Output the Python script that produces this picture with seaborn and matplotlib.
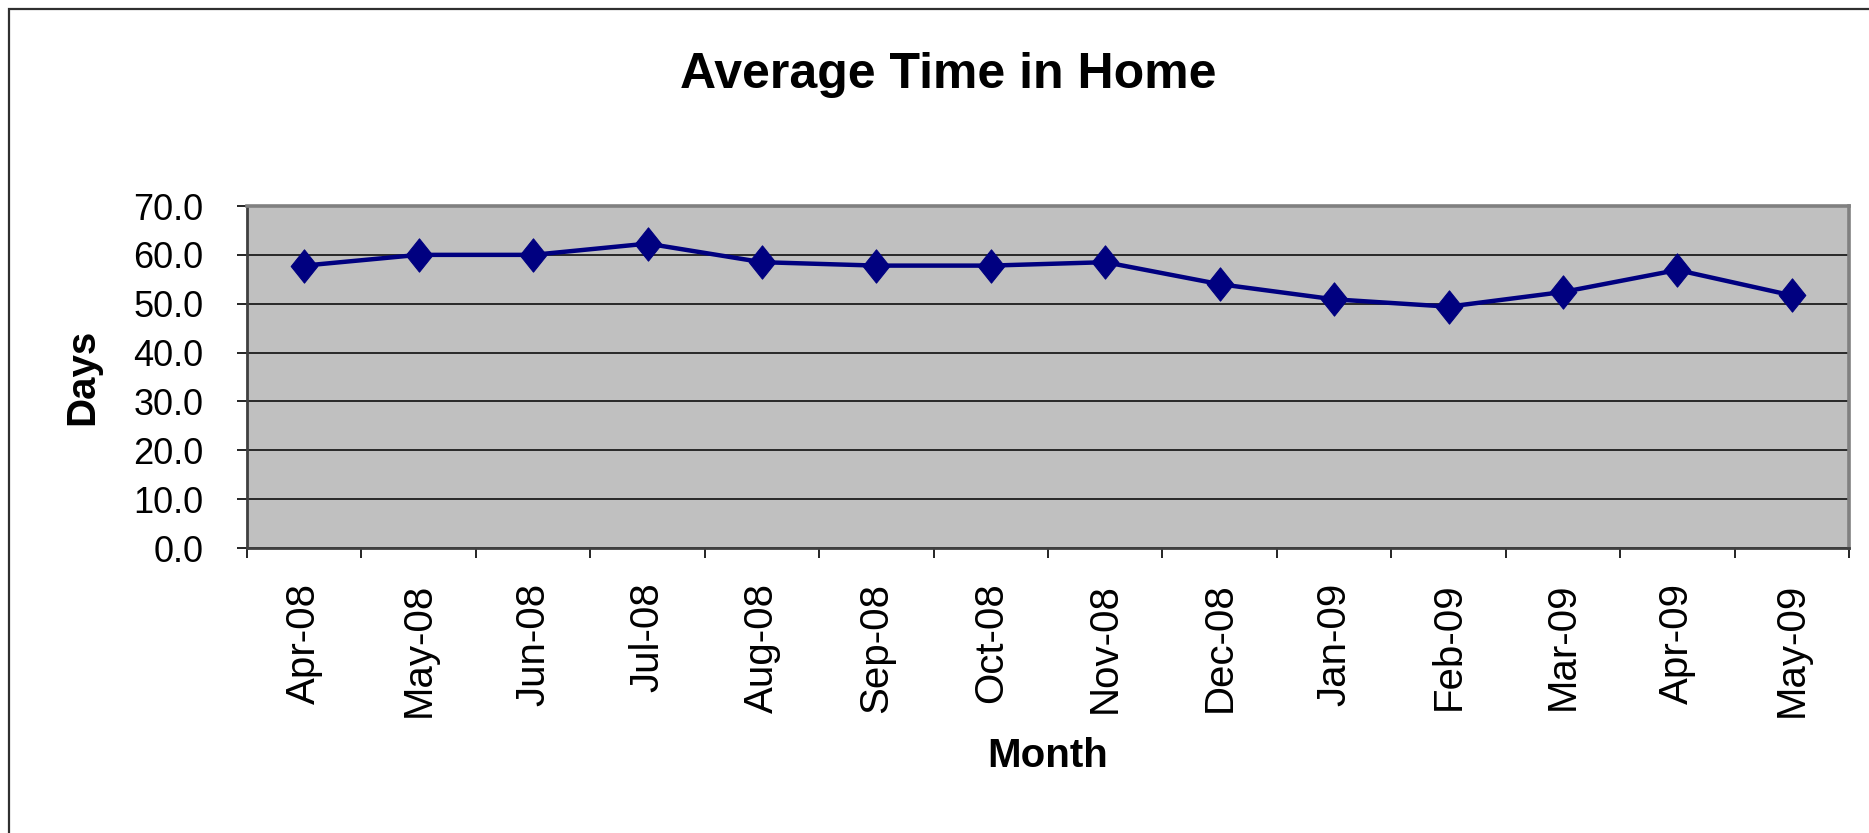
import numpy as np
import pandas as pd

import seaborn as sns
import matplotlib.pyplot as plt
from matplotlib.patches import Rectangle
from matplotlib.path import Path

# values
months = ["Apr-08", "May-08", "Jun-08", "Jul-08", "Aug-08", "Sep-08", "Oct-08",
          "Nov-08", "Dec-08", "Jan-09", "Feb-09", "Mar-09", "Apr-09", "May-09"]
days = [57.8, 60.0, 60.0, 62.3, 58.5, 57.8, 57.8,
        58.5, 54.0, 50.9, 49.4, 52.4, 56.9, 51.7]
y_ticks = [0, 10, 20, 30, 40, 50, 60, 70]

df = pd.DataFrame({"Month": months, "Days": days})
df["pos"] = np.arange(len(df))

sns.set_style("white")
plt.rcParams['font.family'] = ['Liberation Sans', 'DejaVu Sans']
plt.rcParams['text.color'] = 'black'
plt.rcParams['axes.labelcolor'] = 'black'
plt.rcParams['xtick.color'] = 'black'
plt.rcParams['ytick.color'] = 'black'

fig = plt.figure(figsize=(18.69, 8.33), dpi=100)
ax = fig.add_axes([247 / 1869, 1 - 548 / 833, 1602 / 1869, 342 / 833])
ax.set_facecolor("#C0C0C0")

# excel style diamond, a bit narrower than tall
diamond = Path([(0, 1), (0.8, 0), (0, -1), (-0.8, 0), (0, 1)],
               [Path.MOVETO, Path.LINETO, Path.LINETO, Path.LINETO, Path.CLOSEPOLY])

sns.lineplot(data=df, x="pos", y="Days", ax=ax, color="#000080", linewidth=3.2,
             marker=diamond, markersize=24, markeredgecolor="#000080",
             markerfacecolor="#000080", zorder=5, legend=False)

ax.set_xlim(-0.5, len(months) - 0.5)
ax.set_ylim(0, 70)

# gridlines
ax.set_yticks(y_ticks)
ax.set_yticklabels([f"{v:.1f}" for v in y_ticks], fontsize=26)
ax.yaxis.grid(True, color="black", linewidth=1.1)
ax.set_axisbelow(True)
ax.tick_params(axis="y", direction="out", length=7.5, width=1.2, color="black",
               pad=24, left=True)

# month labels at centres, tick marks at the boundaries
ax.set_xticks(df["pos"])
ax.set_xticklabels(months, rotation=90, fontsize=29)
ax.tick_params(axis="x", which="major", length=0, pad=25)
ax.set_xticks(np.arange(len(months) + 1) - 0.5, minor=True)
ax.tick_params(axis="x", which="minor", direction="out", length=7.5, width=1.2,
               color="black", bottom=True)

for side in ["top", "right"]:
    ax.spines[side].set_color("#808080")
    ax.spines[side].set_linewidth(2.6)
for side in ["left", "bottom"]:
    ax.spines[side].set_color("#404040")
    ax.spines[side].set_linewidth(2.0)

ax.set_xlabel("Month", fontsize=29, fontweight="bold")
ax.xaxis.set_label_coords(0.5, (548 - 737) / 342)
ax.set_ylabel("Days", fontsize=29, fontweight="bold")
ax.yaxis.set_label_coords((101 - 247) / 1602, 0.5)

fig.text(948 / 1869, 1 - 75 / 833, "Average Time in Home", fontsize=36,
         fontweight="bold", ha="center", va="center")

# chart area border (only top and left edges fall inside the picture)
fig.add_artist(Rectangle((9 / 1869, -0.1), 1.2, 1.1 - 9 / 833, fill=False,
                         edgecolor="#303030", linewidth=1.6,
                         transform=fig.transFigure))

fig.savefig("out.png", dpi=100)
